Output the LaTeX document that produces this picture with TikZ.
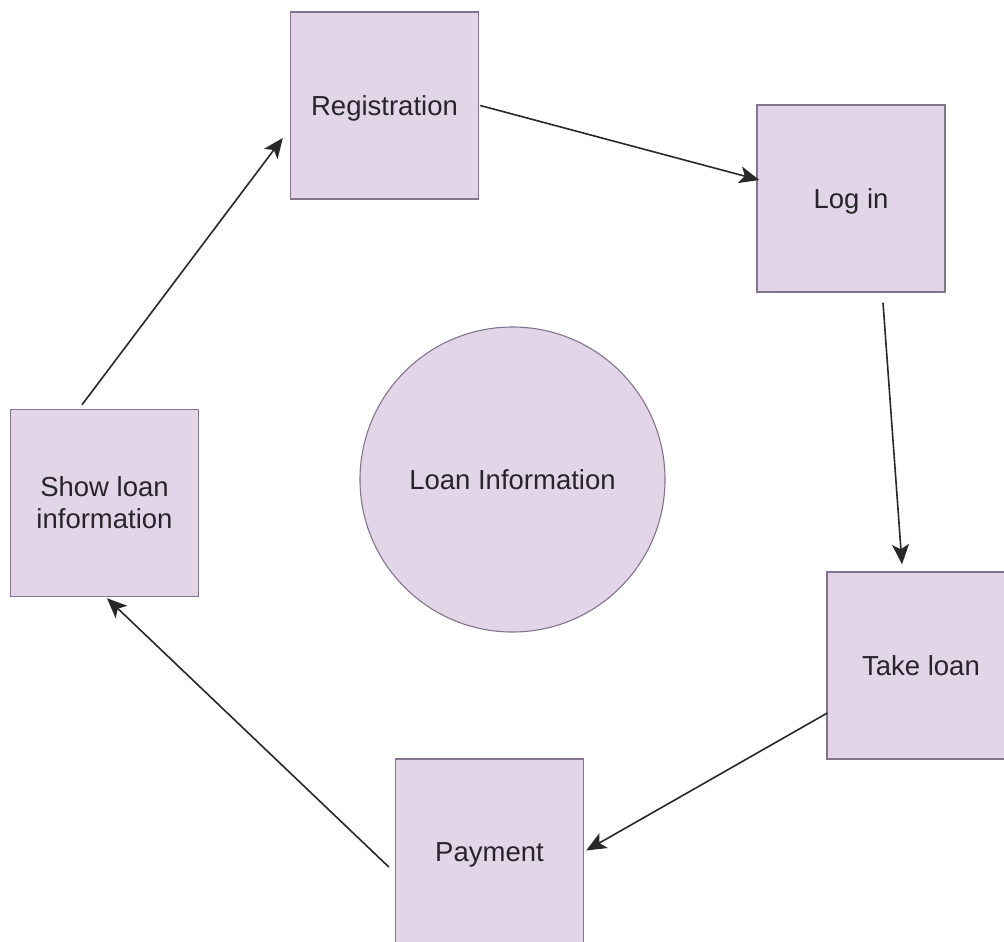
\documentclass[tikz,border=0pt]{standalone}
\usepackage{fontspec}
\setmainfont{Liberation Sans}
\usetikzlibrary{arrows.meta,calc}
\definecolor{boxfill}{RGB}{225,213,231}
\definecolor{boxline}{RGB}{132,116,142}
\definecolor{txt}{RGB}{40,36,44}
\definecolor{arrline}{RGB}{40,40,40}
\tikzset{
  stage/.style={draw=boxline, line width=1.4pt, fill=boxfill, minimum width=188pt,
    minimum height=187pt, inner sep=0pt, align=center, text=txt, text depth=0pt,
    font=\fontsize{27.5}{32}\selectfont},
  hub/.style={circle, draw=boxline, line width=1.1pt, fill=boxfill, minimum size=305pt,
    inner sep=0pt, text=txt, font=\fontsize{27.5}{32}\selectfont},
  flow/.style={draw=arrline, line width=1.6pt,
    -{Stealth[length=20pt, width=17pt, inset=5pt]}}
}
\begin{document}
\begin{tikzpicture}[x=1pt, y=-1pt]
  \useasboundingbox (0,0) rectangle (1004,942);
  \fill[white] (0,0) rectangle (1004,942);
  \clip (0,0) rectangle (1004,942);

  % process stages
  \node[stage] (reg)   at (384.5,105.5) {Registration};
  \node[stage] (login) at (851,198.5)   {Log in};
  \node[stage] (take)  at (921,665.5)   {Take loan};
  \node[stage] (pay)   at (489.5,852.5) {Payment};
  \node[stage, text depth=] (show) at (104.5,503) {Show loan\\information};

  % central data store
  \node[hub] (info) at (512.5,479.5) {Loan Information};

  % cycle of steps
  \draw[flow] ($(reg.east)+(1,0)$) -- ($(login.west)+(3,-18.5)$);
  \draw[flow] ($(login.south)+(32,10)$) -- ($(take.north)+(-19,-7)$);
  \draw[flow] ($(take.west)+(1,47.5)$) -- ($(pay.east)+(2,-2)$);
  \draw[flow] ($(pay.west)+(-6,14.5)$) -- ($(show.south)+(2.5,1)$);
  \draw[flow] ($(show.north)+(-22.5,-4)$) -- ($(reg.west)+(-7,32.5)$);
\end{tikzpicture}
\end{document}
